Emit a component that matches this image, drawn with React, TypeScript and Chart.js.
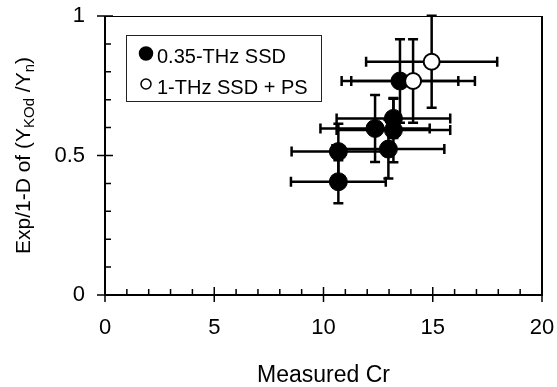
import React, { useEffect, useRef } from 'react';
import { Chart, registerables } from 'chart.js';
Chart.register(...registerables);

const seriesNames = ['0.35-THz SSD', '1-THz SSD + PS'];

const filledX = [13.5, 13.2, 13.2, 12.36, 12.97, 10.68, 10.68];
const filledY = [0.767, 0.633, 0.591, 0.597, 0.523, 0.514, 0.406];
const filledXErr = [2.67, 2.6, 2.6, 2.5, 2.56, 2.14, 2.17];
const filledYErr = [0.15, 0.07, 0.115, 0.12, 0.105, 0.1, 0.077];

const openX = [14.95, 14.1];
const openY = [0.836, 0.767];
const openXErr = [3.0, 2.83];
const openYErr = [0.165, 0.15];

const xTickValues = [0, 5, 10, 15, 20];
const yTickValues = [0, 0.5, 1];
const xTitle = 'Measured Cr';
const yTitleParts = [
  { t: 'Exp/1-D of (Y', sub: false },
  { t: 'KOd', sub: true },
  { t: ' /Y', sub: false },
  { t: 'n', sub: true },
  { t: ')', sub: false },
];

const FONT = '"Liberation Sans", Arial, sans-serif';

export default function App() {
  const ref = useRef<HTMLCanvasElement>(null);
  useEffect(() => {
    document.body.style.margin = '0';
    const errs = [
      { xe: filledXErr, ye: filledYErr },
      { xe: openXErr, ye: openYErr },
    ];
    const errorBars = {
      id: 'errorBars',
      beforeDatasetsDraw(chart: any) {
        const ctx = chart.ctx;
        const xs = chart.scales.x;
        const ys = chart.scales.y;
        ctx.save();
        ctx.strokeStyle = '#000';
        ctx.lineWidth = 2.5;
        chart.data.datasets.forEach((ds: any, i: number) => {
          ds.data.forEach((p: any, j: number) => {
            const cx = xs.getPixelForValue(p.x);
            const cy = ys.getPixelForValue(p.y);
            const x1 = xs.getPixelForValue(p.x - errs[i].xe[j]);
            const x2 = xs.getPixelForValue(p.x + errs[i].xe[j]);
            const y1 = ys.getPixelForValue(p.y - errs[i].ye[j]);
            const y2 = ys.getPixelForValue(p.y + errs[i].ye[j]);
            const c = 5;
            ctx.beginPath();
            ctx.moveTo(x1, cy); ctx.lineTo(x2, cy);
            ctx.moveTo(x1, cy - c); ctx.lineTo(x1, cy + c);
            ctx.moveTo(x2, cy - c); ctx.lineTo(x2, cy + c);
            ctx.moveTo(cx, y1); ctx.lineTo(cx, y2);
            ctx.moveTo(cx - c, y1); ctx.lineTo(cx + c, y1);
            ctx.moveTo(cx - c, y2); ctx.lineTo(cx + c, y2);
            ctx.stroke();
          });
        });
        ctx.restore();
      },
    };
    const frame = {
      id: 'frame',
      afterDraw(chart: any) {
        const ctx = chart.ctx;
        const xs = chart.scales.x;
        const ys = chart.scales.y;
        const { left, right, top, bottom } = chart.chartArea;
        ctx.save();
        ctx.strokeStyle = '#000';
        ctx.lineWidth = 1;
        ctx.beginPath();
        ctx.moveTo(left, top + 0.5); ctx.lineTo(right, top + 0.5);
        ctx.stroke();
        ctx.lineWidth = 2;
        ctx.beginPath();
        ctx.moveTo(right, top); ctx.lineTo(right, bottom);
        ctx.moveTo(left, top); ctx.lineTo(left, bottom);
        ctx.moveTo(left, bottom); ctx.lineTo(right + 1, bottom);
        ctx.stroke();
        ctx.lineWidth = 1.5;
        ctx.beginPath();
        for (let v = xs.min; v <= xs.max + 1e-9; v += 1) {
          const px = xs.getPixelForValue(v);
          if (Math.abs(v % 5) < 1e-9) {
            ctx.moveTo(px, bottom - 8); ctx.lineTo(px, bottom + 7);
          } else {
            ctx.moveTo(px, bottom - 6); ctx.lineTo(px, bottom);
          }
        }
        for (let k = 0; k <= 10; k++) {
          const v = ys.min + k * 0.1;
          const py = ys.getPixelForValue(v);
          if (k % 5 === 0) {
            ctx.moveTo(left - 8, py); ctx.lineTo(left + 8, py);
          } else {
            ctx.moveTo(left, py); ctx.lineTo(left + 6, py);
          }
        }
        ctx.stroke();

        const mainF = `21px ${FONT}`;
        const subF = `15px ${FONT}`;
        let total = 0;
        const widths = yTitleParts.map((p) => {
          ctx.font = p.sub ? subF : mainF;
          const w = ctx.measureText(p.t).width;
          total += w;
          return w;
        });
        ctx.translate(30, (top + bottom) / 2);
        ctx.rotate(-Math.PI / 2);
        ctx.fillStyle = '#000';
        ctx.textBaseline = 'alphabetic';
        ctx.textAlign = 'left';
        let x = -total / 2;
        yTitleParts.forEach((p, i) => {
          ctx.font = p.sub ? subF : mainF;
          ctx.fillText(p.t, x, p.sub ? 4 : 0);
          x += widths[i];
        });
        ctx.restore();

        ctx.save();
        ctx.strokeStyle = '#222';
        ctx.lineWidth = 1;
        ctx.strokeRect(126.5, 35.5, 195, 66);
        ctx.font = `20px ${FONT}`;
        ctx.textBaseline = 'alphabetic';
        ctx.fillStyle = '#000';
        chart.data.datasets.forEach((ds: any, i: number) => {
          const base = 63 + i * 30.5;
          ctx.beginPath();
          ctx.arc(146, base - 9.5, i === 0 ? 6.5 : 5, 0, Math.PI * 2);
          ctx.fillStyle = i === 0 ? '#000' : '#fff';
          ctx.fill();
          ctx.lineWidth = 1.5;
          ctx.strokeStyle = '#000';
          ctx.stroke();
          ctx.fillStyle = '#000';
          ctx.fillText(ds.label, 157, base);
        });
        ctx.restore();
      },
    };

    const chart = new Chart(ref.current as HTMLCanvasElement, {
      type: 'scatter',
      data: {
        datasets: [
          {
            label: seriesNames[0],
            data: filledX.map((x, i) => ({ x, y: filledY[i] })),
            backgroundColor: '#000',
            borderColor: '#000',
            pointRadius: 9,
            pointHoverRadius: 9,
            borderWidth: 1,
            order: 1,
          },
          {
            label: seriesNames[1],
            data: openX.map((x, i) => ({ x, y: openY[i] })),
            backgroundColor: '#fff',
            borderColor: '#000',
            pointRadius: 8,
            pointHoverRadius: 8,
            borderWidth: 2,
            order: 0,
          },
        ],
      },
      options: {
        responsive: false,
        animation: false,
        clip: false as any,
        layout: { padding: { left: 0, top: 16, right: 15, bottom: 0 } },
        plugins: { legend: { display: false }, tooltip: { enabled: false } },
        scales: {
          x: {
            type: 'linear',
            min: 0,
            max: 20,
            afterFit: (s: any) => { s.height = 92; },
            afterBuildTicks: (s: any) => { s.ticks = xTickValues.map((v) => ({ value: v })); },
            grid: { display: false, drawTicks: true, tickLength: 20 },
            border: { display: false },
            ticks: { color: '#000', padding: 0, maxRotation: 0, font: { family: FONT, size: 22 }, callback: (v: any) => `${v}` },
            title: {
              display: true,
              text: xTitle,
              color: '#000',
              font: { family: FONT, size: 23, lineHeight: 1 },
              padding: { top: 0, bottom: 0 },
            },
          },
          y: {
            type: 'linear',
            min: 0,
            max: 1,
            afterFit: (s: any) => { s.width = 105; },
            afterBuildTicks: (s: any) => { s.ticks = yTickValues.map((v) => ({ value: v })); },
            grid: { display: false, drawTicks: true, tickLength: 20 },
            border: { display: false },
            ticks: { color: '#000', padding: 0, font: { family: FONT, size: 22 }, callback: (v: any) => `${v}` },
          },
        },
      },
      plugins: [errorBars, frame],
    });
    return () => chart.destroy();
  }, []);
  return (
    <div style={{ width: 557, height: 387 }}>
      <canvas ref={ref} width={557} height={387} />
    </div>
  );
}
